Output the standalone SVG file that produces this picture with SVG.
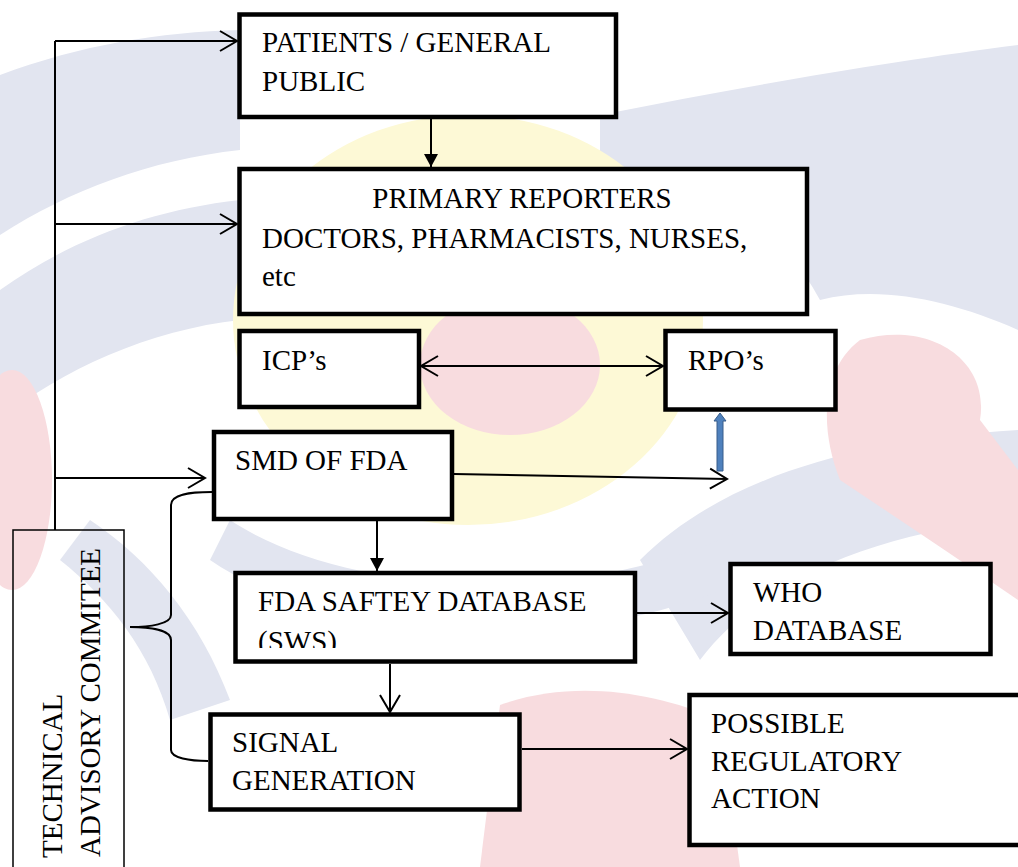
<svg xmlns="http://www.w3.org/2000/svg" width="1018" height="867" viewBox="0 0 1018 867">
<defs>
<style>
.box{fill:#fff;stroke:#000;stroke-width:4.5}
.t{font-family:"Liberation Serif","Times New Roman",serif;font-size:29px;fill:#000}
.ln{fill:none;stroke:#000;stroke-width:2}
.arr{fill:none;stroke:#000;stroke-width:2;marker-end:url(#open)}
.farr{fill:none;stroke:#000;stroke-width:2;marker-end:url(#solid)}
.wg{fill:#e2e5f0}
.wp{fill:#f8dcdf}
</style>
<marker id="open" markerUnits="userSpaceOnUse" markerWidth="22" markerHeight="24" refX="19" refY="12" orient="auto-start-reverse" viewBox="0 0 22 24">
<path d="M2,2 L19,12 L2,22" fill="none" stroke="#000" stroke-width="2"/>
</marker>
<marker id="solid" markerUnits="userSpaceOnUse" markerWidth="14" markerHeight="16" refX="13" refY="8" orient="auto" viewBox="0 0 14 16">
<path d="M0,1 L13,8 L0,15 z" fill="#000"/>
</marker>
<clipPath id="fdaclip"><rect x="233" y="571" width="404" height="77"/></clipPath>
</defs>
<rect width="1018" height="867" fill="#fff"/>
<g id="watermark">
<path class="wg" d="M0,75 C80,45 160,32 240,30 L240,150 C150,160 70,190 0,235 Z"/>
<path class="wg" d="M0,290 C70,240 150,210 240,200 L240,320 C150,330 60,370 0,420 Z"/>
<path class="wg" d="M600,115 C750,85 900,60 1018,45 L1018,330 C950,300 880,285 820,300 C770,210 700,165 600,175 Z"/>
<ellipse cx="468" cy="320" rx="235" ry="205" fill="#fdf9d6"/>
<path class="wg" d="M90,520 C150,560 200,620 230,700 L170,720 C150,650 110,600 60,560 Z"/>
<path class="wg" d="M640,560 C720,480 850,440 1018,430 L1018,520 C880,530 760,580 700,660 Z"/>
<path class="wg" d="M230,520 C350,600 600,610 760,520 L780,560 C620,660 340,650 210,560 Z"/>
<ellipse class="wp" cx="510" cy="365" rx="90" ry="70"/>
<ellipse class="wp" cx="12" cy="480" rx="40" ry="110"/>
<path class="wp" d="M860,340 C930,320 990,360 980,420 L1018,470 L1018,600 C960,560 900,520 840,480 C820,430 820,370 860,340 Z"/>
<path class="wp" d="M500,705 C570,680 650,690 720,720 L740,867 L480,867 Z"/>
</g>
<g id="connectors">
<path class="ln" d="M55,41 V530"/>
<path class="arr" d="M55,41 H237"/>
<path class="arr" d="M55,224 H237"/>
<path class="arr" d="M55,478 H205"/>
<path class="farr" d="M431,119 V167"/>
<path class="ln" d="M421,366 H663" marker-start="url(#open)" marker-end="url(#open)"/>
<path class="arr" d="M454,474 L727,479"/>
<path d="M717,471 V421 H714 L720,413 L726,421 H723 V471 Z" fill="#4f81bd" stroke="#385d8a" stroke-width="1"/>
<path class="farr" d="M377,521 V571"/>
<path class="arr" d="M637,613 H728"/>
<path class="arr" d="M390,664 V712"/>
<path class="arr" d="M522,749 H687"/>
<path class="ln" d="M212,492 C190,492 171,494 171,505 V615 C171,624 150,627 130,627 C150,627 171,630 171,640 V750 C171,758 190,761 208,761"/>
</g>
<g id="patients">
<rect class="box" x="239.5" y="14.5" width="376.5" height="102.5"/>
<text class="t" x="262" y="52">PATIENTS / GENERAL</text>
<text class="t" x="262" y="91">PUBLIC</text>
</g>
<g id="primary">
<rect class="box" x="239.5" y="169" width="567.5" height="145"/>
<text class="t" x="522" y="208" text-anchor="middle">PRIMARY REPORTERS</text>
<text class="t" x="262" y="248">DOCTORS, PHARMACISTS, NURSES,</text>
<text class="t" x="262" y="286">etc</text>
</g>
<g id="icp">
<rect class="box" x="239.5" y="331" width="179.5" height="76"/>
<text class="t" x="262" y="370">ICP’s</text>
</g>
<g id="rpo">
<rect class="box" x="665.5" y="331" width="170" height="78.5"/>
<text class="t" x="688" y="370">RPO’s</text>
</g>
<g id="smd">
<rect class="box" x="214" y="432" width="238" height="87"/>
<text class="t" x="235" y="470">SMD OF FDA</text>
</g>
<g id="fda">
<rect class="box" x="235.5" y="573" width="399.5" height="88.5"/>
<g clip-path="url(#fdaclip)">
<text class="t" x="258" y="611">FDA SAFTEY DATABASE</text>
<text class="t" x="258" y="651">(SWS)</text>
</g>
</g>
<g id="who">
<rect class="box" x="730.5" y="564" width="260" height="90"/>
<text class="t" x="753" y="602">WHO</text>
<text class="t" x="753" y="640">DATABASE</text>
</g>
<g id="signal">
<rect class="box" x="210.5" y="714.5" width="309" height="95"/>
<text class="t" x="232" y="752">SIGNAL</text>
<text class="t" x="232" y="790">GENERATION</text>
</g>
<g id="possible">
<rect class="box" x="689.5" y="695" width="340" height="150"/>
<text class="t" x="711" y="733">POSSIBLE</text>
<text class="t" x="711" y="771">REGULATORY</text>
<text class="t" x="711" y="808">ACTION</text>
</g>
<g id="technical">
<rect x="13" y="530" width="111" height="360" fill="none" stroke="#000" stroke-width="1.5"/>
<text class="t" transform="translate(62,858) rotate(-90)">TECHNICAL</text>
<text class="t" transform="translate(100,857) rotate(-90)">ADVISORY COMMITEE</text>
</g>
</svg>
